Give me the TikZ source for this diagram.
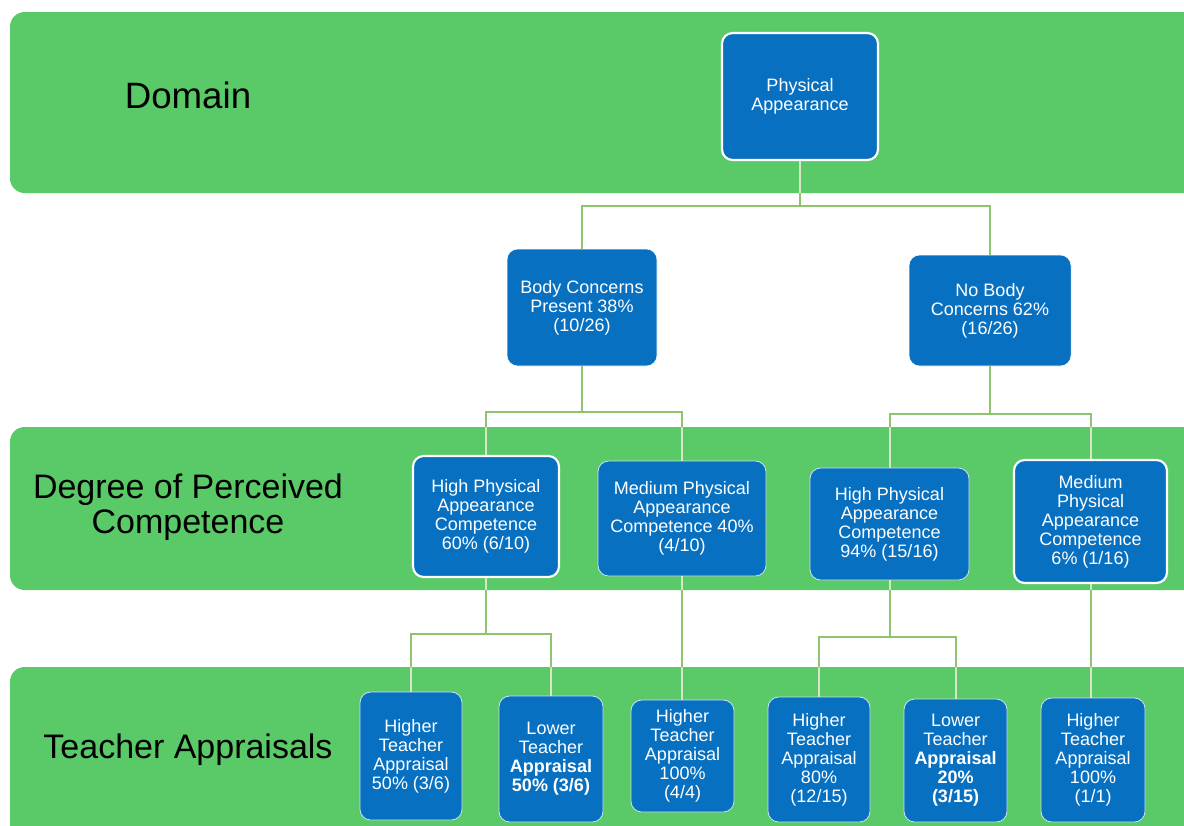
\documentclass[tikz,border=0pt]{standalone}
\usepackage{fontspec}
\setmainfont{Liberation Sans}
\definecolor{band}{RGB}{90,202,104}
\definecolor{boxblue}{RGB}{8,112,192}
\definecolor{connout}{RGB}{142,196,110}
\definecolor{connin}{RGB}{214,232,196}
\tikzset{
  bandrect/.style={fill=band, draw=none, rounded corners=11pt},
  bandlabel/.style={text=black, align=center, font=\fontsize{25.5}{26.5}\selectfont},
  box/.style={fill=boxblue, rounded corners=8pt, text=white, align=center, inner sep=0pt,
    font=\fontsize{13.5}{14.3}\selectfont},
  thickrim/.style={draw=white, line width=1.6pt},
  thinrim/.style={draw=white!80!boxblue, line width=0.6pt},
  conn/.style={line width=1.5pt},
}
\newcommand{\myconnectors}[1]{%
\draw[conn, draw=#1] (PA.south) -- ++(0,45) -| (BC.north);
\draw[conn, draw=#1] (PA.south) -- ++(0,45) -| (NB.north);
\draw[conn, draw=#1] (BC.south) -- ++(0,46) -| (HPA1.north);
\draw[conn, draw=#1] (BC.south) -- ++(0,46) -| (MPA1.north);
\draw[conn, draw=#1] (NB.south) -- ++(0,48) -| (HPA2.north);
\draw[conn, draw=#1] (NB.south) -- ++(0,48) -| (MPA2.north);
\draw[conn, draw=#1] (HPA1.south) -- ++(0,56) -| (TA1.north);
\draw[conn, draw=#1] (HPA1.south) -- ++(0,56) -| (TA2.north);
\draw[conn, draw=#1] (MPA1.south) -- (MPA1.south |- TA3.north);
\draw[conn, draw=#1] (HPA2.south) -- ++(0,57) -| (TA4.north);
\draw[conn, draw=#1] (HPA2.south) -- ++(0,57) -| (TA5.north);
\draw[conn, draw=#1] (MPA2.south) -- (MPA2.south |- TA6.north);
}
\begin{document}
\begin{tikzpicture}[x=0.75pt,y=-0.75pt]
\useasboundingbox (0,0) rectangle (1184,825);
\clip (0,0) rectangle (1184,825);
\fill[white] (0,0) rectangle (1184,825);
% bands
\path[bandrect] (10,12) rectangle (1230,193);
\path[bandrect] (10,427) rectangle (1230,590);
\path[bandrect] (10,667) rectangle (1230,880);
% band labels
\node[bandlabel, font=\fontsize{27.5}{28}\selectfont] (lab1) at (188,95) {Domain};
\node[bandlabel] (lab2) at (188,507.5) {Degree of Perceived\\Competence};
\node[bandlabel] (lab3) at (188,750) {Teacher Appraisals};
% nodes
\node[box, thickrim, minimum width=117pt, minimum height=95.25pt] (PA) at (800,96.5) {Physical\\Appearance};
\node[box, draw=white, minimum width=112.5pt, minimum height=87.75pt] (BC) at (582,307.5) {Body Concerns\\Present 38\%\\(10/26)};
\node[box, draw=white, minimum width=121.5pt, minimum height=83.25pt] (NB) at (990,310.5) {No Body\\Concerns 62\%\\(16/26)};
\node[box, thickrim, minimum width=109.5pt, minimum height=90.75pt] (HPA1) at (486,516.5) {High Physical\\Appearance\\Competence\\60\% (6/10)};
\node[box, thinrim, minimum width=126pt, minimum height=86.25pt] (MPA1) at (682,518.5) {Medium Physical\\Appearance\\Competence 40\%\\(4/10)};
\node[box, thinrim, minimum width=119.25pt, minimum height=84pt] (HPA2) at (889.5,524) {High Physical\\Appearance\\Competence\\94\% (15/16)};
\node[box, thickrim, minimum width=114.75pt, minimum height=92.25pt] (MPA2) at (1090.5,521.5) {Medium\\Physical\\Appearance\\Competence\\6\% (1/16)};
\node[box, thinrim, minimum width=76.5pt, minimum height=96pt] (TA1) at (411,756) {Higher\\Teacher\\Appraisal\\50\% (3/6)};
\node[box, thinrim, minimum width=78pt, minimum height=94.5pt] (TA2) at (551,759) {Lower\\Teacher\\\textbf{Appraisal}\\\textbf{50\% (3/6)}};
\node[box, thinrim, minimum width=77.25pt, minimum height=84pt] (TA3) at (682.5,756) {Higher\\Teacher\\Appraisal\\100\%\\(4/4)};
\node[box, thinrim, minimum width=76.5pt, minimum height=93.75pt] (TA4) at (819,759.5) {Higher\\Teacher\\Appraisal\\80\%\\(12/15)};
\node[box, thinrim, minimum width=77.25pt, minimum height=92.25pt] (TA5) at (955.5,760.5) {Lower\\Teacher\\\textbf{Appraisal}\\\textbf{20\%}\\\textbf{(3/15)}};
\node[box, thinrim, minimum width=78pt, minimum height=93pt] (TA6) at (1093,760) {Higher\\Teacher\\Appraisal\\100\%\\(1/1)};
% connectors: pale over the bands, darker green in the white gaps
\myconnectors{connin}
\begin{scope}
\clip (0,193) rectangle (1184,427) (0,590) rectangle (1184,667);
\myconnectors{connout}
\end{scope}
\end{tikzpicture}
\end{document}
